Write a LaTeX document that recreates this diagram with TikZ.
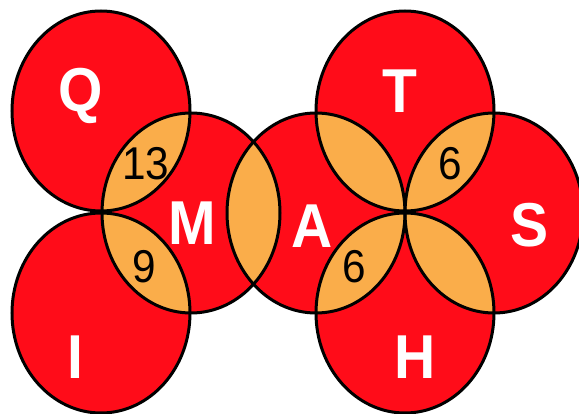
\documentclass[tikz,border=0pt]{standalone}
\usepackage{fontspec}
\setmainfont{Liberation Sans}
\usetikzlibrary{positioning}
\definecolor{ringred}{HTML}{FF0C19}
\definecolor{lensorange}{HTML}{FAAD4A}

\tikzset{
  ring/.style={x radius=89pt, y radius=100pt},
  letter/.style={text=white, font=\fontsize{62}{62}\selectfont\bfseries, xscale=0.92, inner sep=0pt, anchor=base},
  count/.style={text=black, font=\fontsize{46}{46}\selectfont, xscale=0.92, inner sep=0pt, anchor=base}
}

\begin{document}
\begin{tikzpicture}[x=1pt,y=-1pt]
\useasboundingbox (0,0) rectangle (579,414);
\foreach \n/\x/\y in {q/101/111, i/101/313, m/191/213, a/316/213, t/405/111, h/405/313, s/494/213}
  \coordinate (\n) at (\x,\y);
% red discs
\foreach \n in {q,i,m,a,t,h,s}
  \fill[ringred] (\n) ellipse[ring];
% orange overlaps
\foreach \u/\v in {q/m, i/m, m/a, a/t, t/s, a/h, h/s}{
  \begin{scope}
    \clip (\u) ellipse[ring];
    \fill[lensorange] (\v) ellipse[ring];
  \end{scope}
}
% outlines
\foreach \n in {q,i,m,a,t,h,s}
  \draw[line width=3pt] (\n) ellipse[ring];
% letters
\node[letter] (lq) at (81,112) {Q};
\node[letter] (li) at (75,378) {I};
\node[letter] (lm) at (192,245) {M};
\node[letter] (la) at (312,248) {A};
\node[letter] (lt) at (400,113) {T};
\node[letter] (ls) at (530,247) {S};
\node[letter] (lh) at (415,378) {H};
% counts
\node[count] (nqm) at (146,180) {13};
\node[count] (nim) at (144,283) {9};
\node[count] (nts) at (450,180) {6};
\node[count] (nah) at (354,283) {6};
\end{tikzpicture}
\end{document}
